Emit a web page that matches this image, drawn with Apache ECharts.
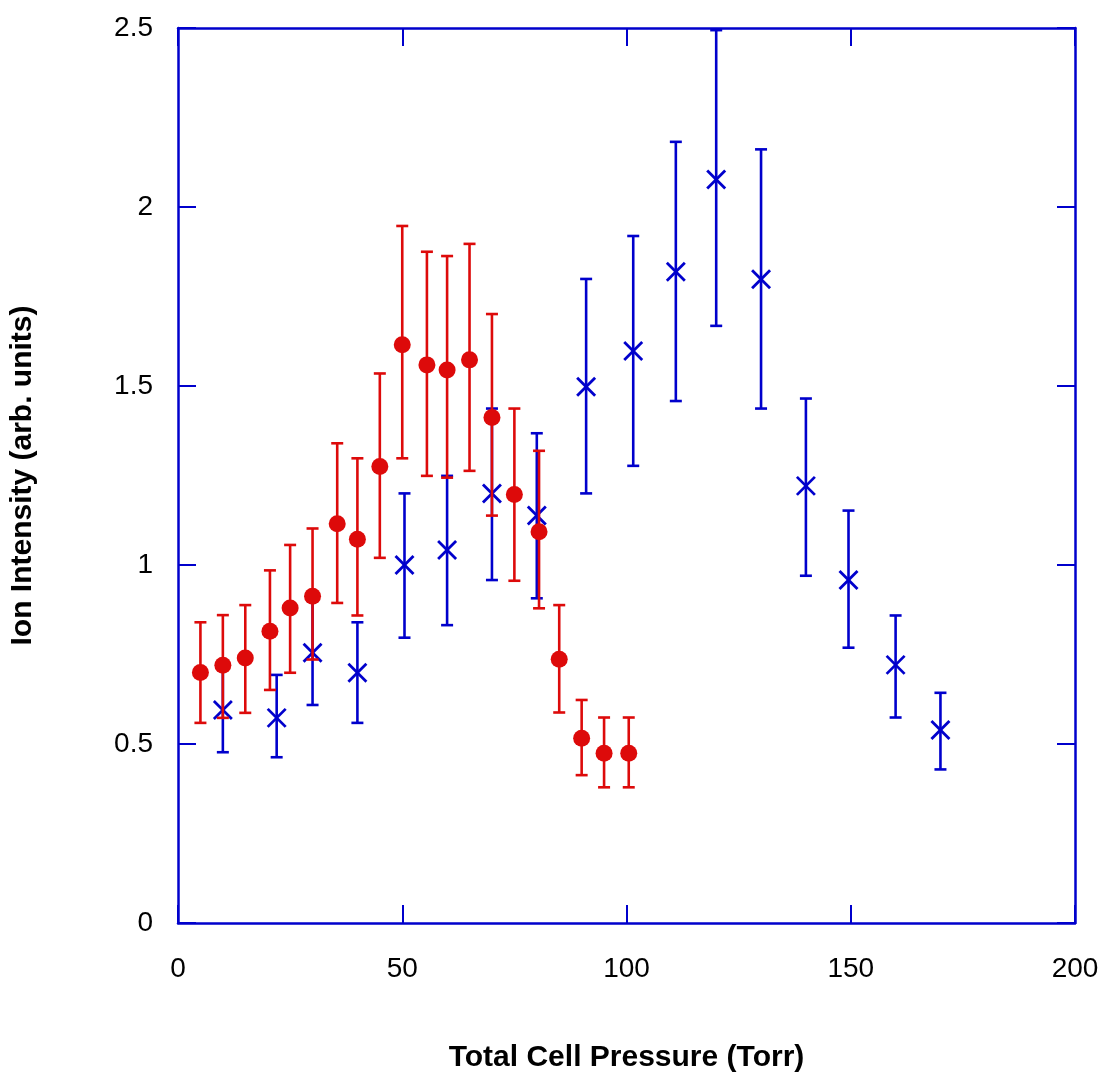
<!DOCTYPE html>
<html>
<head>
<meta charset="utf-8">
<script src="https://cdn.jsdelivr.net/npm/echarts@6/dist/echarts.min.js"></script>
<style>
  html, body { margin: 0; padding: 0; background: #fff; }
  #main { width: 1103px; height: 1077px; }
</style>
</head>
<body>
<div id="main"></div>
<script>
// red series (filled circles)
const redX = [5, 10, 15, 20.5, 25, 30, 35.5, 40, 45, 50, 55.5, 60, 65, 70, 75, 80.5, 85, 90, 95, 100.5];
const redY = [0.70, 0.72, 0.74, 0.815, 0.88, 0.913, 1.115, 1.072, 1.275, 1.615, 1.559, 1.545, 1.573, 1.412, 1.197, 1.093, 0.737, 0.516, 0.474, 0.474];
const redHi = [0.84, 0.86, 0.888, 0.985, 1.056, 1.102, 1.34, 1.298, 1.535, 1.947, 1.875, 1.863, 1.897, 1.701, 1.437, 1.319, 0.888, 0.623, 0.574, 0.574];
const redLo = [0.559, 0.573, 0.587, 0.651, 0.699, 0.736, 0.894, 0.859, 1.02, 1.298, 1.249, 1.244, 1.263, 1.138, 0.956, 0.879, 0.588, 0.413, 0.379, 0.379];

// blue series (crosses)
const blueX = [10, 22, 30, 40, 50.5, 60, 70, 80, 91, 101.5, 111, 120, 130, 140, 149.5, 160, 170];
const blueY = [0.595, 0.573, 0.755, 0.699, 1.0, 1.042, 1.2, 1.138, 1.498, 1.598, 1.819, 2.077, 1.798, 1.221, 0.958, 0.721, 0.539];
const blueHi = [0.715, 0.693, 0.90, 0.84, 1.2, 1.249, 1.437, 1.368, 1.799, 1.919, 2.182, 2.494, 2.161, 1.465, 1.152, 0.859, 0.643];
const blueLo = [0.477, 0.463, 0.609, 0.559, 0.797, 0.832, 0.958, 0.907, 1.2, 1.277, 1.458, 1.668, 1.437, 0.970, 0.769, 0.574, 0.429];

const RED = "#dd0a0a";
const BLUE = "#0000cc";

const chart = echarts.init(document.getElementById("main"));

function errorBars(color, capHalf) {
  return function (params, api) {
    const x = api.value(0);
    const lo = api.coord([x, api.value(1)]);
    const hi = api.coord([x, api.value(2)]);
    const style = { stroke: color, lineWidth: 2.6 };
    return {
      type: "group",
      children: [
        { type: "line", shape: { x1: lo[0], y1: lo[1], x2: hi[0], y2: hi[1] }, style },
        { type: "line", shape: { x1: lo[0] - capHalf, y1: lo[1], x2: lo[0] + capHalf, y2: lo[1] }, style },
        { type: "line", shape: { x1: hi[0] - capHalf, y1: hi[1], x2: hi[0] + capHalf, y2: hi[1] }, style },
      ],
    };
  };
}

function crosses(params, api) {
  const p = api.coord([api.value(0), api.value(1)]);
  const r = 9;
  const style = { stroke: BLUE, lineWidth: 2.8 };
  return {
    type: "group",
    children: [
      { type: "line", shape: { x1: p[0] - r, y1: p[1] - r, x2: p[0] + r, y2: p[1] + r }, style },
      { type: "line", shape: { x1: p[0] - r, y1: p[1] + r, x2: p[0] + r, y2: p[1] - r }, style },
    ],
  };
}

const frameAxis = {
  axisLine: { show: true, onZero: false, lineStyle: { color: BLUE, width: 2.5 } },
  axisTick: { show: true, inside: true, length: 18, lineStyle: { color: BLUE, width: 2 } },
  splitLine: { show: false },
};

const options = {
  backgroundColor: "#fff",
  animation: false,
  grid: {
    left: 178,
    right: 28,
    top: 28,
    bottom: 154,
    containLabel: false,
    outerBoundsMode: "none",
  },
  xAxis: [
    {
      type: "value",
      position: "bottom",
      min: 0,
      max: 200,
      interval: 50,
      ...frameAxis,
      axisLabel: {
        color: "#000",
        fontFamily: "Liberation Sans, Arial",
        fontSize: 28,
        margin: 32,
      },
      name: "Total Cell Pressure (Torr)",
      nameLocation: "middle",
      nameGap: 120,
      nameTextStyle: {
        color: "#000",
        fontFamily: "Liberation Sans, Arial",
        fontWeight: "bold",
        fontSize: 30,
      },
    },
    {
      type: "value",
      position: "top",
      min: 0,
      max: 200,
      interval: 50,
      ...frameAxis,
      axisLabel: { show: false },
    },
  ],
  yAxis: [
    {
      type: "value",
      position: "left",
      min: 0,
      max: 2.5,
      interval: 0.5,
      ...frameAxis,
      axisLabel: {
        color: "#000",
        fontFamily: "Liberation Sans, Arial",
        fontSize: 28,
        margin: 25,
      },
      name: "Ion Intensity (arb. units)",
      nameLocation: "middle",
      nameGap: 140,
      nameTextStyle: {
        color: "#000",
        fontFamily: "Liberation Sans, Arial",
        fontWeight: "bold",
        fontSize: 30,
      },
    },
    {
      type: "value",
      position: "right",
      min: 0,
      max: 2.5,
      interval: 0.5,
      ...frameAxis,
      axisLabel: { show: false },
    },
  ],
  series: [
    {
      type: "custom",
      name: "blue error",
      renderItem: errorBars(BLUE, 6),
      data: blueX.map((x, i) => [x, blueLo[i], blueHi[i]]),
      encode: { x: 0, y: [1, 2] },
      z: 2,
    },
    {
      type: "custom",
      name: "blue",
      renderItem: crosses,
      data: blueX.map((x, i) => [x, blueY[i]]),
      encode: { x: 0, y: 1 },
      z: 3,
    },
    {
      type: "custom",
      name: "red error",
      renderItem: errorBars(RED, 6),
      data: redX.map((x, i) => [x, redLo[i], redHi[i]]),
      encode: { x: 0, y: [1, 2] },
      z: 4,
    },
    {
      type: "scatter",
      name: "red",
      data: redX.map((x, i) => [x, redY[i]]),
      symbol: "circle",
      symbolSize: 17,
      itemStyle: { color: RED, opacity: 1 },
      z: 5,
    },
  ],
};

chart.setOption(options);
</script>
</body>
</html>
